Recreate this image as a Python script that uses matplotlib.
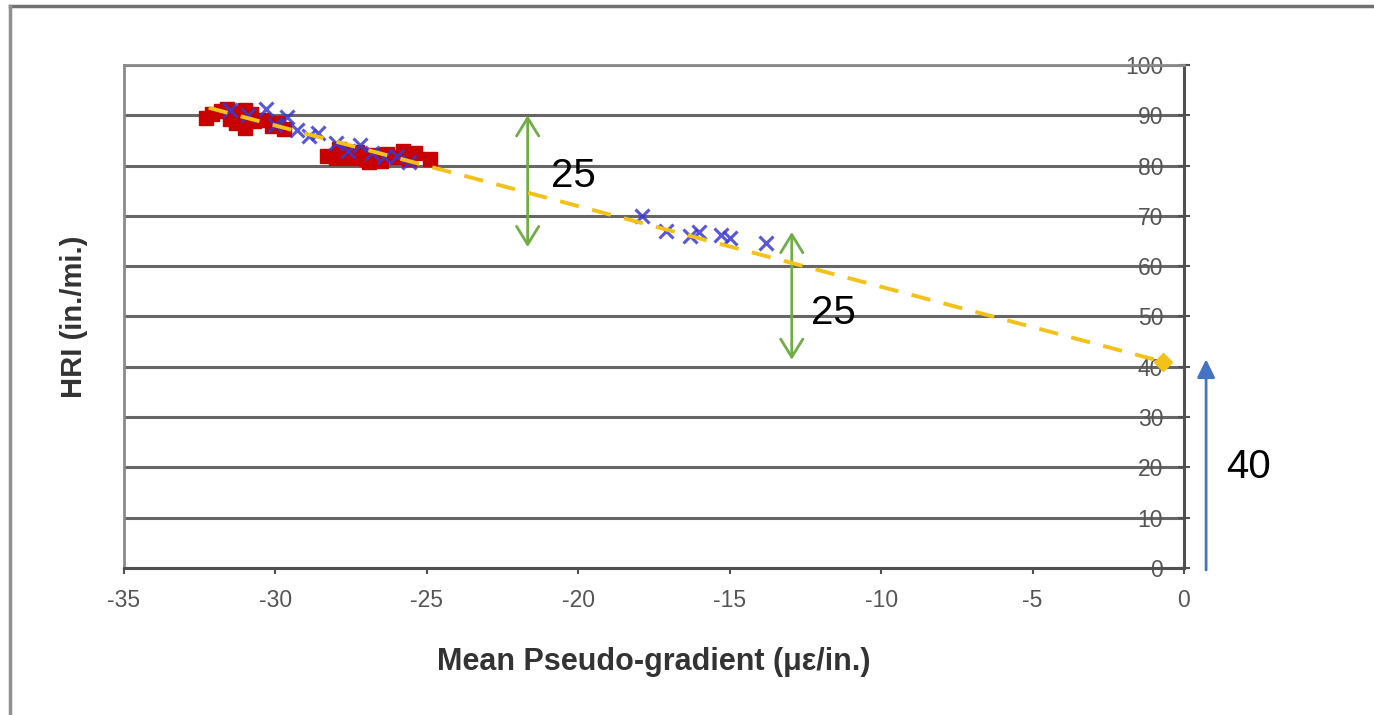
import matplotlib
matplotlib.use("Agg")
import matplotlib.pyplot as plt
from matplotlib.lines import Line2D

plt.rcParams["font.family"] = ["Liberation Sans", "DejaVu Sans"]
plt.rcParams["axes.unicode_minus"] = False

red_x = [-32.3, -32.1, -31.8, -31.6, -31.4, -31.2, -31.0, -30.8, -31.3, -31.0, -30.7, -30.4,
         -30.1, -29.9, -29.7, -31.5,
         -28.3, -28.0, -27.8, -27.5, -27.3, -27.0, -26.8, -26.5, -26.3, -26.0, -25.8, -25.6,
         -25.4, -24.9, -27.9, -26.9]
red_y = [89.5, 90.3, 90.8, 91.2, 90.5, 89.8, 91.0, 90.2, 88.4, 87.5, 88.8, 89.0,
         87.8, 88.4, 87.2, 89.2,
         82.0, 81.5, 82.5, 81.6, 82.8, 81.3, 82.2, 81.0, 82.4, 81.8, 82.9, 81.4,
         82.6, 81.3, 83.2, 80.7]

blue_x = [-31.5, -30.9, -30.3, -30.0, -29.6, -29.3, -28.9, -28.6, -28.0, -27.6, -27.2, -26.8,
          -26.4, -26.0, -25.6,
          -17.9, -17.1, -16.3, -16.0, -15.3, -15.0, -13.8]
blue_y = [91.0, 90.0, 91.3, 88.0, 89.6, 87.0, 85.8, 86.5, 84.5, 83.0, 84.0, 82.5,
          81.8, 82.0, 80.8,
          70.0, 67.0, 66.0, 66.8, 66.2, 65.6, 64.6]

trend_x = [-32.2, -0.7]
trend_y = [91.5, 41.0]

x_ticks = [-35, -30, -25, -20, -15, -10, -5, 0]
y_ticks = [0, 10, 20, 30, 40, 50, 60, 70, 80, 90, 100]

fig = plt.figure(figsize=(13.74, 7.15), dpi=100)
ax = fig.add_axes([0.0902, 0.2056, 0.7715, 0.7035])

ax.plot(red_x, red_y, "s", color="#C80000", markersize=10, zorder=3)
ax.plot(blue_x, blue_y, "x", color="#3A3AD0", markersize=10, mew=2.2, alpha=0.85, zorder=4)
ax.plot(trend_x, trend_y, "--", color="#F2C21B", lw=2.8, dashes=(5, 3.5), zorder=5)
ax.plot(trend_x[-1:], trend_y[-1:], "D", color="#F2C21B", markersize=9, zorder=5)

ax.set_xlim(-35, 0)
ax.set_ylim(0, 100)
ax.set_xticks(x_ticks)
ax.set_yticks(y_ticks)
ax.grid(axis="y", color="#666666", lw=2.2)
ax.set_axisbelow(True)

ax.yaxis.tick_right()
ax.tick_params(axis="y", direction="inout", length=8, width=1.5, color="#505050",
               pad=-19, labelsize=16.5, labelcolor="#555555")
for lbl in ax.get_yticklabels():
    lbl.set_horizontalalignment("right")
ax.tick_params(axis="x", direction="out", length=4, width=1.5, color="#505050",
               pad=11, labelsize=16.5, labelcolor="#555555")

for side in ["left", "top"]:
    ax.spines[side].set_color("#8a8a8a")
    ax.spines[side].set_linewidth(2)
for side in ["right", "bottom"]:
    ax.spines[side].set_color("#505050")
    ax.spines[side].set_linewidth(2.2)

ax.set_xlabel("Mean Pseudo-gradient (\u03bc\u03b5/in.)", fontsize=22, fontweight="bold",
              color="#333333", labelpad=25)
ax.set_ylabel("HRI (in./mi.)", fontsize=21, fontweight="bold", color="#333333", labelpad=26)

# annotations
green = "#70AD47"
ax.annotate("", xy=(-21.67, 90.0), xytext=(-21.67, 63.8),
            arrowprops=dict(arrowstyle="<->,head_length=0.65,head_width=0.4", color=green,
                            lw=2, mutation_scale=20, shrinkA=0, shrinkB=0))
ax.text(-20.9, 78, "25", fontsize=29, color="black", va="center", ha="left")
ax.annotate("", xy=(-12.95, 66.8), xytext=(-12.95, 41.4),
            arrowprops=dict(arrowstyle="<->,head_length=0.65,head_width=0.4", color=green,
                            lw=2, mutation_scale=20, shrinkA=0, shrinkB=0))
ax.text(-12.3, 50.7, "25", fontsize=29, color="black", va="center", ha="left")
ax.annotate("", xy=(0.73, 41.5), xytext=(0.73, -0.4), annotation_clip=False,
            arrowprops=dict(arrowstyle="-|>,head_length=0.55,head_width=0.27", color="#4472C4",
                            lw=2, mutation_scale=20, shrinkA=0, shrinkB=0))
ax.text(1.4, 20.0, "40", fontsize=29, color="black", va="center", ha="left", clip_on=False)

# outer frame of the original picture (top and left edges)
fig.add_artist(Line2D([10 / 1374, 1], [1 - 6 / 715, 1 - 6 / 715], color="#707070", lw=2.5))
fig.add_artist(Line2D([10 / 1374, 10 / 1374], [0, 1 - 6 / 715], color="#909090", lw=2.5))

fig.savefig("out.png", dpi=100)
